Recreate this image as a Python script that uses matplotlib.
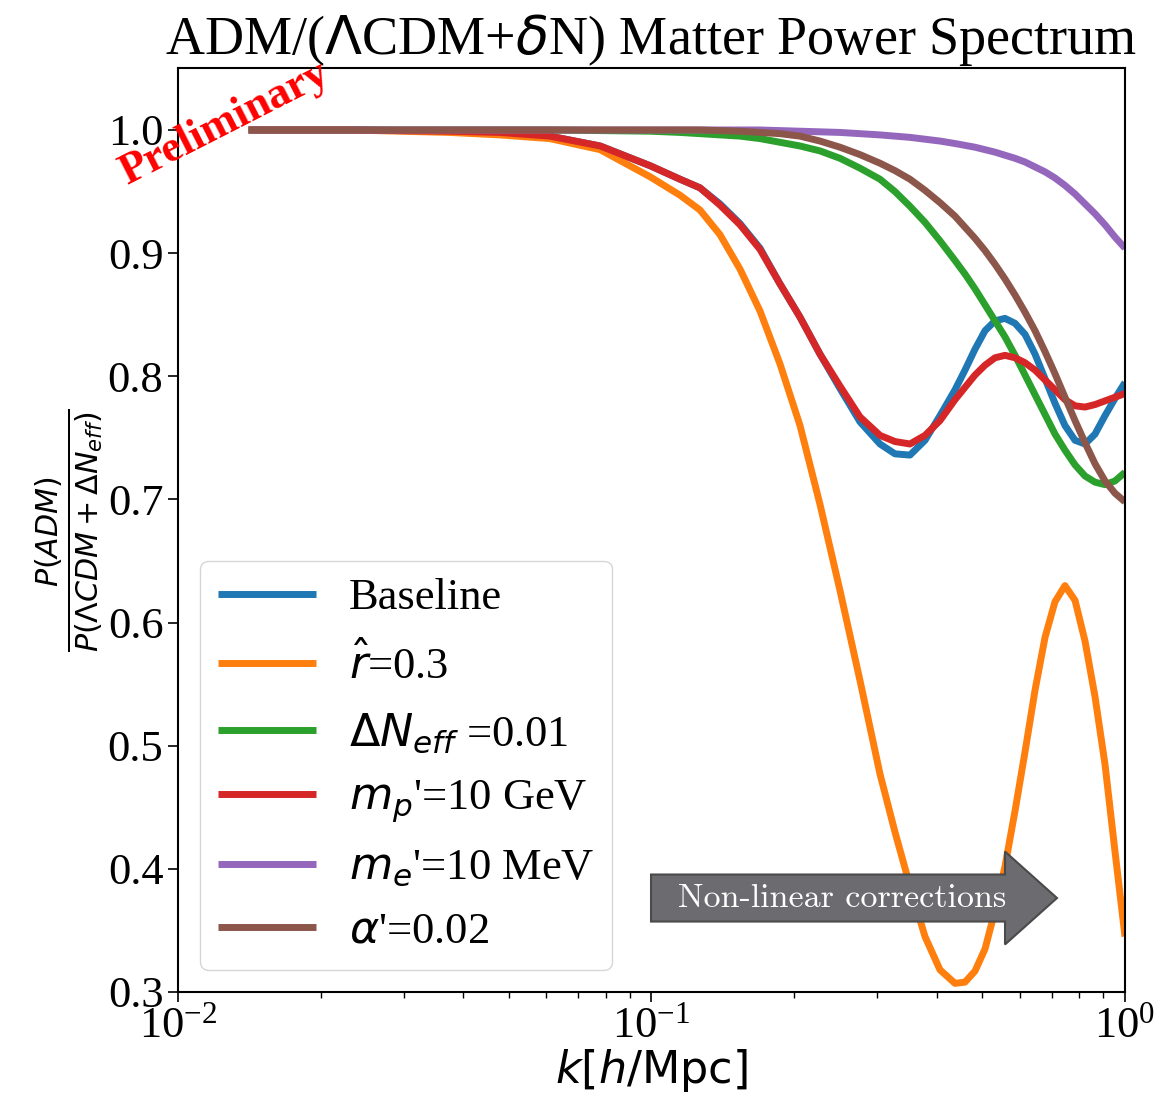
import matplotlib
matplotlib.use("Agg")
import matplotlib.pyplot as plt
from matplotlib.patches import FancyArrow

plt.rcParams['font.family'] = ['Liberation Serif', 'DejaVu Serif']
plt.rcParams['mathtext.fontset'] = 'dejavusans'
plt.rcParams['axes.unicode_minus'] = False

# k grid [h/Mpc]
k = [0.0141, 0.0231, 0.0375, 0.0478, 0.0610, 0.0779, 0.0993, 0.1149, 0.1266, 0.1395,
     0.1538, 0.1695, 0.1868, 0.2059, 0.2269, 0.2501, 0.2756, 0.3038, 0.3267, 0.3515,
     0.3781, 0.4067, 0.4375, 0.4593, 0.4822, 0.5063, 0.5314, 0.5579, 0.5858, 0.6150,
     0.6456, 0.6778, 0.7116, 0.7468, 0.7843, 0.8233, 0.8642, 0.9073, 0.9526, 1.0]

baseline = [1.0, 1.0, 0.999, 0.998, 0.995, 0.987, 0.971, 0.960, 0.953, 0.940,
            0.924, 0.904, 0.875, 0.848, 0.818, 0.790, 0.763, 0.745, 0.737, 0.736,
            0.748, 0.768, 0.789, 0.805, 0.822, 0.837, 0.845, 0.847, 0.843, 0.834,
            0.818, 0.798, 0.778, 0.760, 0.748, 0.745, 0.753, 0.768, 0.782, 0.795]

r_hat = [1.0, 1.0, 0.998, 0.996, 0.993, 0.984, 0.962, 0.947, 0.935, 0.915,
         0.887, 0.853, 0.810, 0.760, 0.696, 0.626, 0.553, 0.477, 0.430, 0.386,
         0.345, 0.318, 0.307, 0.308, 0.317, 0.335, 0.366, 0.402, 0.447, 0.495,
         0.545, 0.588, 0.617, 0.630, 0.618, 0.585, 0.540, 0.485, 0.414, 0.345]

dneff = [1.0, 1.0, 1.0, 1.0, 1.0, 0.9995, 0.999, 0.998, 0.997, 0.996,
         0.995, 0.993, 0.990, 0.987, 0.983, 0.977, 0.969, 0.960, 0.950, 0.938,
         0.925, 0.910, 0.894, 0.883, 0.871, 0.858, 0.845, 0.832, 0.817, 0.801,
         0.785, 0.769, 0.753, 0.740, 0.728, 0.719, 0.714, 0.712, 0.715, 0.722]

mp = [1.0, 1.0, 0.999, 0.998, 0.995, 0.987, 0.971, 0.960, 0.953, 0.939,
      0.923, 0.903, 0.875, 0.848, 0.818, 0.792, 0.767, 0.752, 0.747, 0.745,
      0.752, 0.764, 0.781, 0.791, 0.801, 0.809, 0.815, 0.817, 0.815, 0.811,
      0.805, 0.797, 0.789, 0.781, 0.776, 0.775, 0.777, 0.780, 0.783, 0.786]

me = [1.0, 1.0, 1.0, 1.0, 1.0, 1.0, 1.0, 1.0, 1.0, 1.0,
      1.0, 1.0, 0.9995, 0.999, 0.9985, 0.998, 0.997, 0.996, 0.995, 0.994,
      0.9925, 0.991, 0.989, 0.9875, 0.986, 0.984, 0.982, 0.9795, 0.977, 0.974,
      0.970, 0.966, 0.961, 0.955, 0.948, 0.940, 0.932, 0.923, 0.913, 0.904]

alpha = [1.0, 1.0, 1.0, 1.0, 1.0, 1.0, 1.0, 1.0, 1.0, 0.9995,
         0.999, 0.998, 0.997, 0.995, 0.991, 0.986, 0.980, 0.973, 0.967, 0.960,
         0.951, 0.941, 0.930, 0.921, 0.912, 0.902, 0.891, 0.879, 0.866, 0.852,
         0.837, 0.820, 0.802, 0.783, 0.764, 0.746, 0.729, 0.715, 0.705, 0.698]

labels = ['Baseline', r'$\hat{r}$=0.3', r'$\Delta N_{eff}$ =0.01',
          r"$m_p$'=10 GeV", r"$m_e$'=10 MeV", r"$\alpha$'=0.02"]
series = [baseline, r_hat, dneff, mp, me, alpha]

fig = plt.figure(figsize=(11.58, 11.08), dpi=100)
ax = fig.add_axes([0.1537, 0.1047, 0.8178, 0.8339])

for y, lab in zip(series, labels):
    ax.plot(k, y, lw=5, label=lab, solid_joinstyle='round', solid_capstyle='butt')

ax.set_xscale('log')
ax.set_xlim(1e-2, 1)
ax.set_ylim(0.3, 1.0503)
ax.set_yticks([0.3, 0.4, 0.5, 0.6, 0.7, 0.8, 0.9, 1.0])
ax.tick_params(axis='both', which='major', labelsize=32, length=7, width=1.2)
ax.tick_params(axis='x', which='minor', length=4, width=1)
for s in ax.spines.values():
    s.set_linewidth(1.5)

ax.set_title(r'ADM/($\Lambda$CDM+$\delta$N) Matter Power Spectrum', fontsize=39, pad=6)
ax.set_xlabel(r'$k[h/\mathrm{Mpc}]$', fontsize=32, labelpad=0)
ax.set_ylabel(r'$\frac{P(ADM)}{P(\Lambda CDM+\Delta N_{eff})}$', fontsize=31, labelpad=2)

ax.legend(loc='lower left', fontsize=32, handlelength=2.2, labelspacing=0.53,
          handletextpad=0.75, borderpad=0.4)

ax.text(0.049, 0.94, 'Preliminary', transform=ax.transAxes, rotation=27,
        ha='center', va='center', rotation_mode='anchor', color='red',
        fontsize=32, fontweight='bold')

# grey "non-linear" arrow
ax.add_patch(FancyArrow(0.4995, 0.1017, 0.4287, 0, width=0.0509, head_width=0.1006,
                        head_length=0.0549, length_includes_head=True,
                        transform=ax.transAxes, fc='#6b6b70', ec='#4a4a4a', lw=1.5,
                        zorder=4))
ax.text(0.701, 0.1017, 'Non-linear corrections', transform=ax.transAxes,
        ha='center', va='center', color='white', fontsize=24.5, fontname='cmr10',
        zorder=5)

fig.savefig('out.png', dpi=100)
